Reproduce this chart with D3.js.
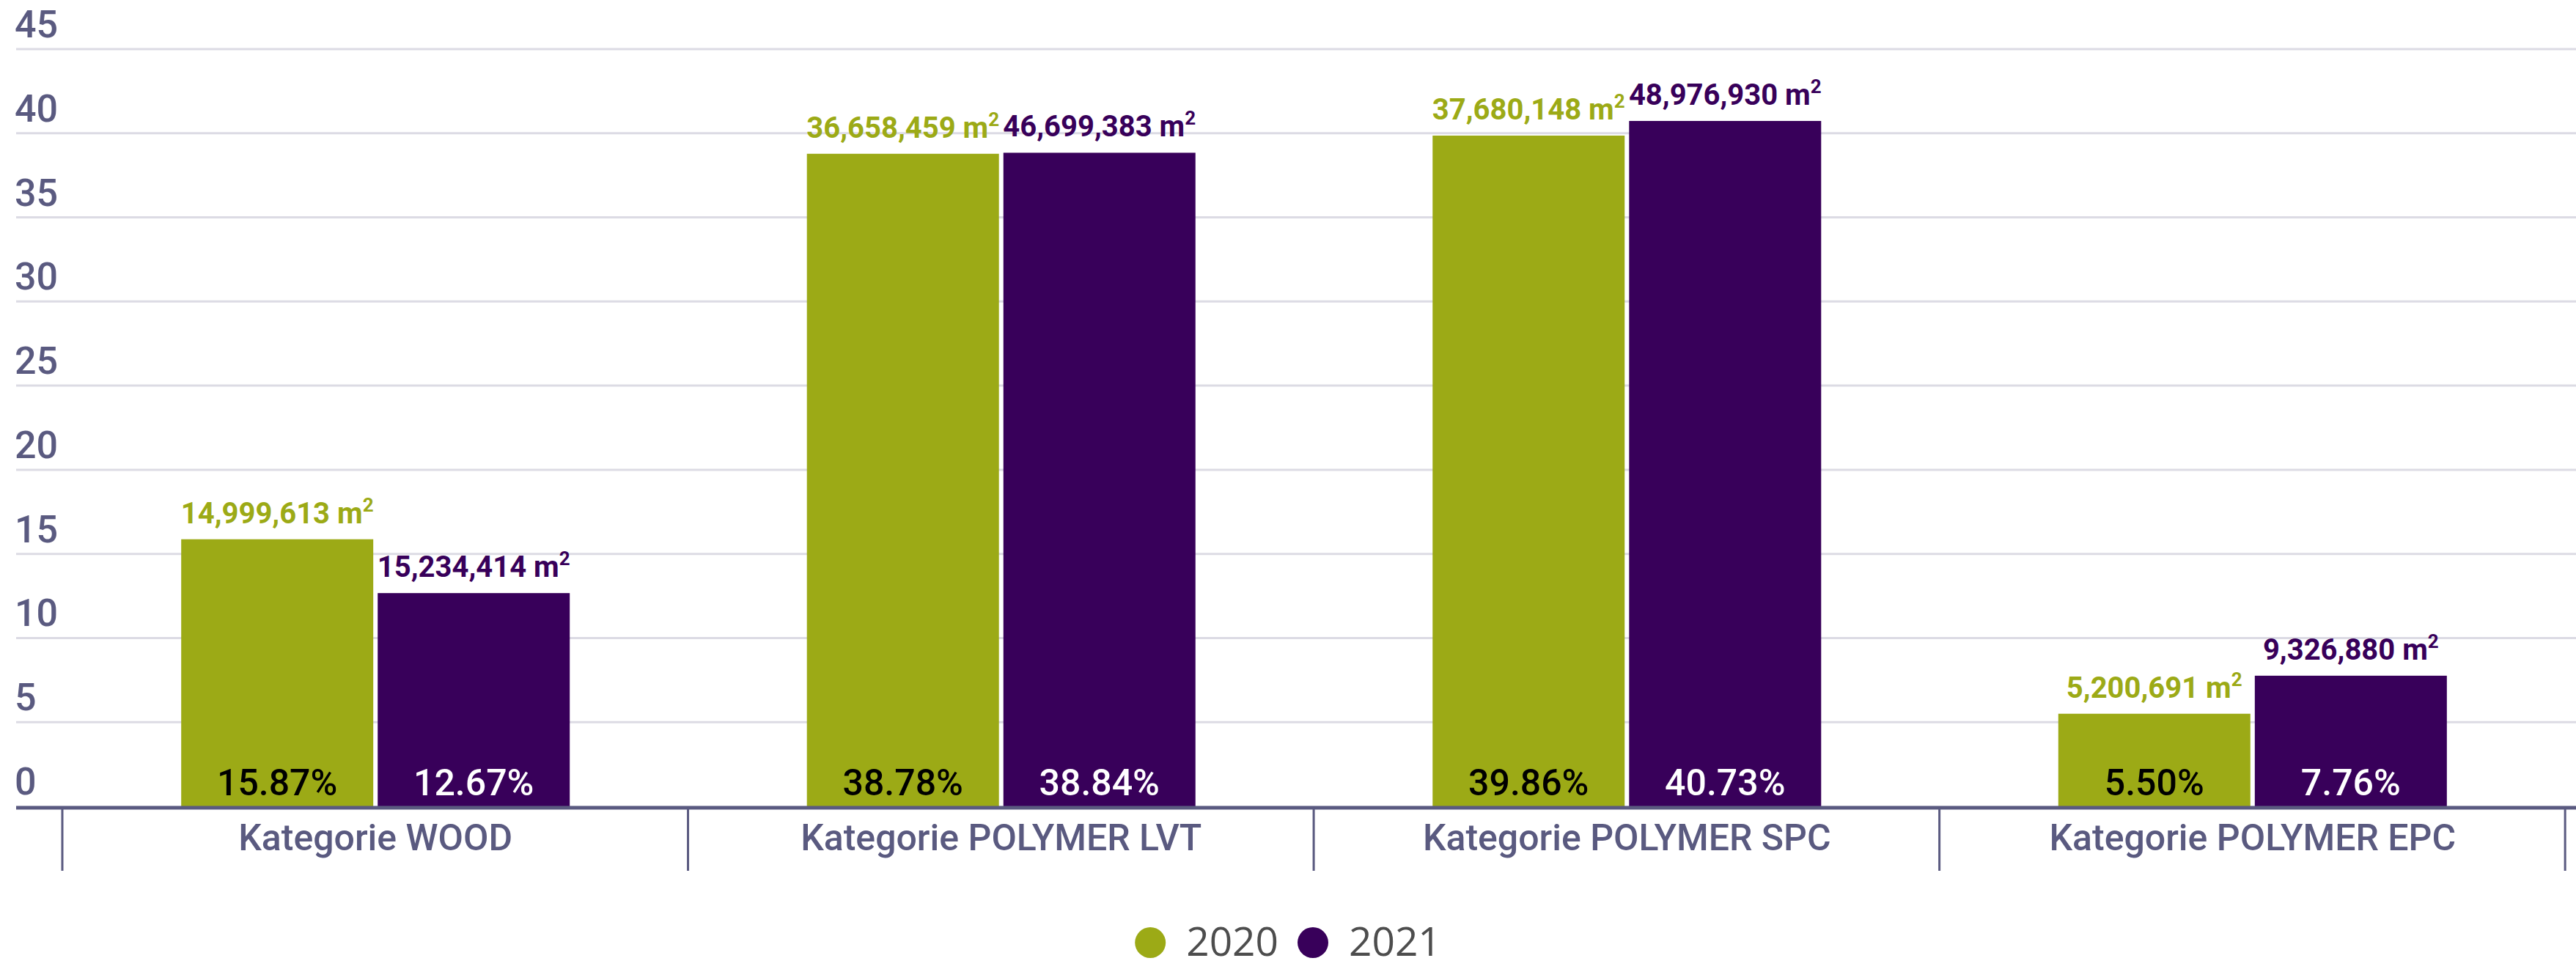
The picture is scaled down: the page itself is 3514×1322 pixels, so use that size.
<!DOCTYPE html>
<html lang="de">
<head>
    <meta charset="UTF-8">
    <title>Kategorien 2020 / 2021</title>
    <script src="https://d3js.org/d3.v7.min.js"></script>
    <style>
        body {
            margin: 0;
            background: #ffffff;
            font-family: Roboto, "Noto Sans", sans-serif;
        }
        svg { display: block; }
        .grid line { stroke: #dcdbe4; stroke-width: 3; }
        .y-label { fill: #5a5a80; font-size: 52px; font-weight: 500; }
        .cat-label { fill: #5a5a80; font-size: 50px; font-weight: 500; }
        .val-label { font-size: 40px; font-weight: 700; }
        .pct-label { font-size: 50px; font-weight: 500; }
        .legend text { fill: #4d4d4d; font-size: 55px; font-family: "Open Sans", sans-serif; }
    </style>
</head>
<body>
<div id="chart"></div>
<script>
    // data
    const categories = ['Kategorie WOOD', 'Kategorie POLYMER LVT', 'Kategorie POLYMER SPC', 'Kategorie POLYMER EPC'];
    const years = ['2020', '2021'];
    const share2020 = [15.87, 38.78, 39.86, 5.50];
    const share2021 = [12.67, 38.84, 40.73, 7.76];
    const area2020 = [14999613, 36658459, 37680148, 5200691];
    const area2021 = [15234414, 46699383, 48976930, 9326880];
    const yTicks = [0, 5, 10, 15, 20, 25, 30, 35, 40, 45];

    const colors = { '2020': '#9caa16', '2021': '#38005a' };
    const pctColors = { '2020': '#000000', '2021': '#ffffff' };

    const width = 3514;
    const height = 1322;
    const plotLeft = 85, plotRight = 3500, plotTop = 67, plotBottom = 1100;

    const svg = d3.select('#chart').append('svg')
        .attr('width', width)
        .attr('height', height);

    const rows = [];
    categories.forEach((c, i) => {
        rows.push({ cat: c, year: '2020', share: share2020[i], area: area2020[i] });
        rows.push({ cat: c, year: '2021', share: share2021[i], area: area2021[i] });
    });

    const x0 = d3.scaleBand().domain(categories).range([plotLeft, plotRight])
        .paddingInner(0.379).paddingOuter(0.19);
    const x1 = d3.scaleBand().domain(years).range([0, x0.bandwidth()]).paddingInner(0.0226);
    const y = d3.scaleLinear().domain([0, 45]).range([plotBottom, plotTop]);

    // gridlines + y labels
    const grid = svg.append('g').attr('class', 'grid');
    grid.selectAll('line')
        .data(yTicks.filter(t => t > 0))
        .join('line')
        .attr('x1', 22).attr('x2', width)
        .attr('y1', d => y(d)).attr('y2', d => y(d));

    svg.append('g').selectAll('text')
        .data(yTicks)
        .join('text')
        .attr('class', 'y-label')
        .attr('x', 20)
        .attr('y', d => y(d) - 16)
        .text(d => d);

    // bars
    svg.append('g').selectAll('rect')
        .data(rows)
        .join('rect')
        .attr('x', d => x0(d.cat) + x1(d.year))
        .attr('y', d => y(d.share))
        .attr('width', x1.bandwidth())
        .attr('height', d => y(0) - y(d.share))
        .attr('fill', d => colors[d.year]);

    // percentage inside bars
    svg.append('g').selectAll('text')
        .data(rows)
        .join('text')
        .attr('class', 'pct-label')
        .attr('x', d => x0(d.cat) + x1(d.year) + x1.bandwidth() / 2)
        .attr('y', plotBottom - 15)
        .attr('text-anchor', 'middle')
        .attr('fill', d => pctColors[d.year])
        .text(d => d.share.toFixed(2) + '%');

    // area labels above bars
    const fmt = d3.format(',');
    const vl = svg.append('g').selectAll('text')
        .data(rows)
        .join('text')
        .attr('class', 'val-label')
        .attr('x', d => x0(d.cat) + x1(d.year) + x1.bandwidth() / 2)
        .attr('y', d => y(d.share) - 22)
        .attr('text-anchor', 'middle')
        .attr('fill', d => colors[d.year]);
    vl.append('tspan').text(d => fmt(d.area) + ' m');
    vl.append('tspan').attr('dy', -16).style('font-size', '26px').text('2');

    // x axis
    svg.append('line')
        .attr('x1', 22).attr('x2', width)
        .attr('y1', plotBottom + 2).attr('y2', plotBottom + 2)
        .attr('stroke', '#5a5a80').attr('stroke-width', 5);

    const seps = d3.range(categories.length + 1).map(i => plotLeft + i * x0.step());
    svg.append('g').selectAll('line')
        .data(seps)
        .join('line')
        .attr('x1', d => d).attr('x2', d => d)
        .attr('y1', plotBottom).attr('y2', 1188)
        .attr('stroke', '#5a5a80').attr('stroke-width', 3);

    svg.append('g').selectAll('text')
        .data(categories)
        .join('text')
        .attr('class', 'cat-label')
        .attr('x', d => x0(d) + x0.bandwidth() / 2)
        .attr('y', 1160)
        .attr('text-anchor', 'middle')
        .text(d => d);

    // legend
    const legend = svg.append('g').attr('class', 'legend');
    const items = legend.selectAll('g')
        .data(years)
        .join('g');
    items.append('circle')
        .attr('r', 21)
        .attr('cy', 1286)
        .attr('fill', d => colors[d]);
    items.append('text')
        .attr('y', 1304)
        .text(d => d);

    let cx = 0;
    const pos = [];
    items.each(function () {
        const w = d3.select(this).select('text').node().getComputedTextLength();
        pos.push(cx);
        cx += 21 * 2 + 28 + w + 26;
    });
    const total = cx - 26;
    const start = width / 2 - total / 2;
    items.each(function (d, i) {
        const g = d3.select(this);
        g.select('circle').attr('cx', start + pos[i] + 21);
        g.select('text').attr('x', start + pos[i] + 42 + 28);
    });
</script>
</body>
</html>
